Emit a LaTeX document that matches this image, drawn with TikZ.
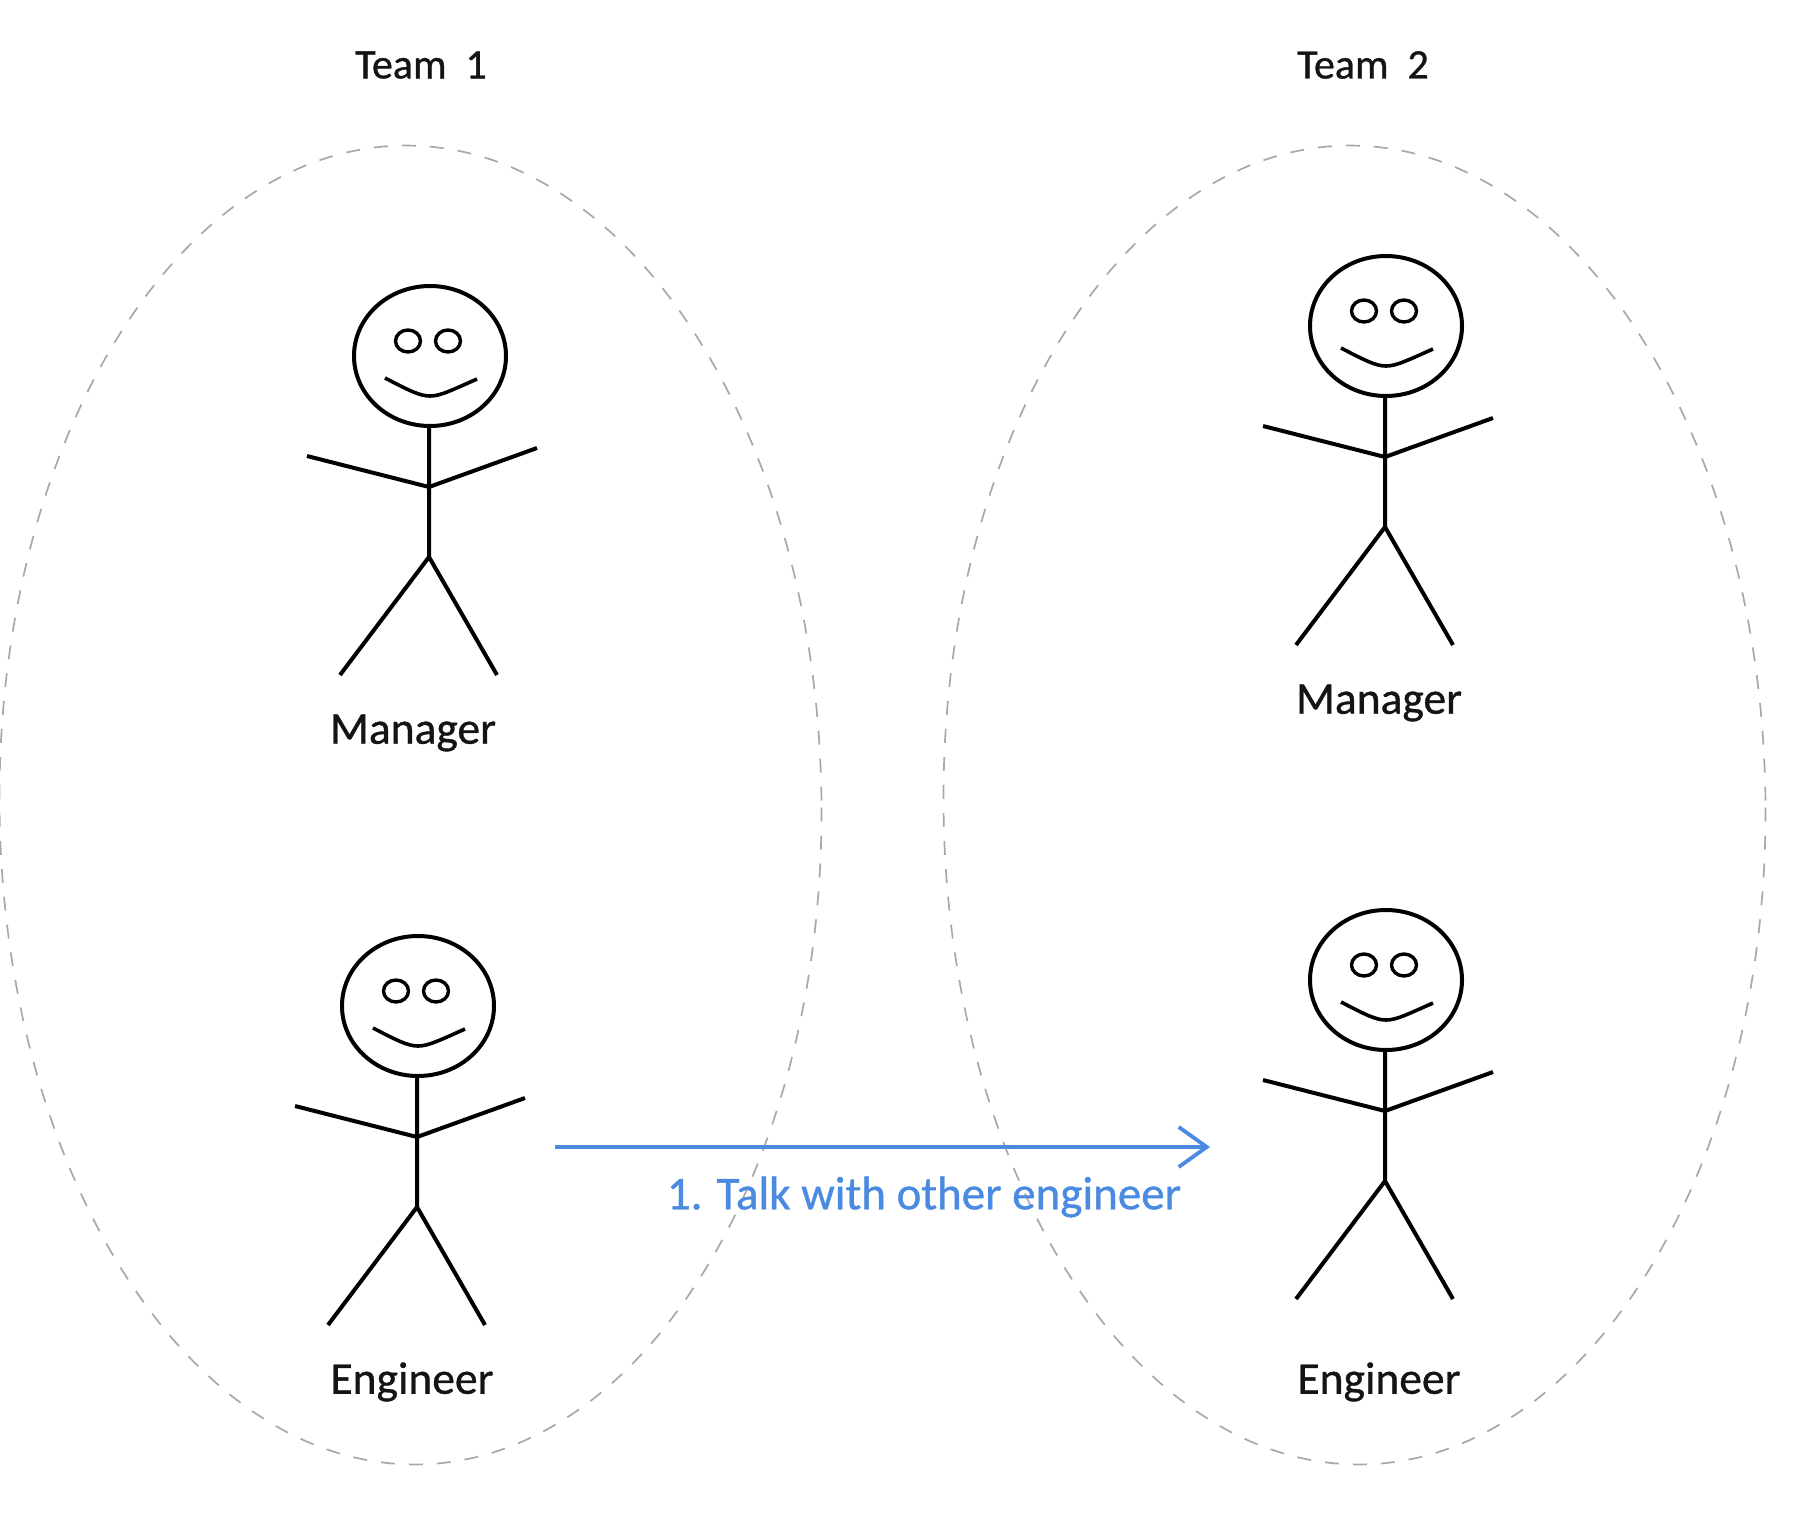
\documentclass[tikz,border=0pt]{standalone}
\usepackage{fontspec}
\newfontfamily\handfont[FakeBold=0.8]{Carlito}
\usetikzlibrary{arrows.meta,shapes.geometric}
\definecolor{talkblue}{HTML}{4A8AE0}
\definecolor{ovalgray}{HTML}{A8A8A8}
\tikzset{
    x=1pt,y=-1pt,
    teamoval/.style={draw=ovalgray,line width=1.7pt,dash pattern=on 14pt off 14pt,
        ellipse,inner sep=0pt,minimum width=822pt,minimum height=1319pt,rotate=0.6},
    teamlabel/.style={text=black!92,font=\handfont\fontsize{42}{50}\selectfont},
    rolelabel/.style={text=black!92,font=\handfont\fontsize{45.5}{50}\selectfont},
    talklabel/.style={text=talkblue,font=\handfont\fontsize{47}{50}\selectfont},
    talkline/.style={draw=talkblue,line width=3.8pt,-{Straight Barb[length=28pt,width=40pt,line width=3.8pt]}},
    stickman/.pic={
        \draw[line width=4pt] (0,0) ellipse (76 and 70);
        \draw[line width=3.4pt] (-22,-15) ellipse (12.5 and 11) (18,-15) ellipse (12.5 and 11);
        \draw[line width=3.6pt] (-45,22) .. controls (-20,35) and (-10,40) .. (0,40) .. controls (10,40) and (20,35) .. (47,23);
        \draw[line width=4pt] (-1,70) -- (-1,201) (-123,100) -- (-1,131) -- (107,92) (-90,319) -- (-1,201) -- (67,319);
    },
}
\begin{document}
\begin{tikzpicture}
	\useasboundingbox (0,0) rectangle (1810,1530);
	\node[teamoval] (team1) at (410.5,805) {};
	\node[teamoval] (team2) at (1354.5,805) {};
	\node[teamlabel] (team1label) at (421,65) {Team\ \ 1};
	\node[teamlabel] (team2label) at (1363,65) {Team\ \ 2};
	\pic (mgr1) at (430,356) {stickman};
	\pic (eng1) at (418,1006) {stickman};
	\pic (mgr2) at (1386,326) {stickman};
	\pic (eng2) at (1386,980) {stickman};
	\node[rolelabel] (mgr1label) at (413,733) {Manager};
	\node[rolelabel] (eng1label) at (412,1382) {Engineer};
	\node[rolelabel] (mgr2label) at (1379,703) {Manager};
	\node[rolelabel] (eng2label) at (1379,1382) {Engineer};
	\coordinate (talkstart) at (555,1147);
	\coordinate (talkend) at (1210,1147);
	\draw[talkline] (talkstart) -- (talkend);
	\node[talklabel] (talk) at (924,1197) {1. Talk with other engineer};
\end{tikzpicture}
\end{document}
